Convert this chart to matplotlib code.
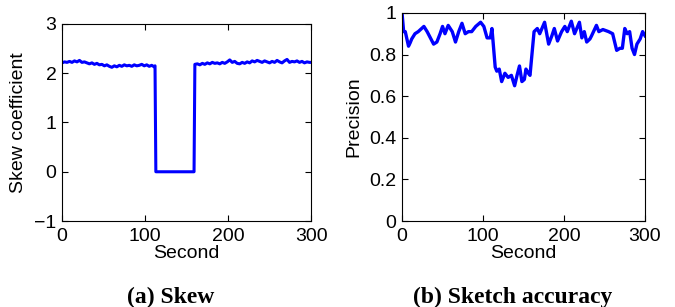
import matplotlib.pyplot as plt

plt.rcParams['font.family'] = ['Liberation Sans', 'DejaVu Sans']

# (a) skew coefficient over time
skew_t = [0, 3, 6, 9, 12, 15, 18, 21, 24, 27, 30, 33, 36, 39, 42, 45, 48, 51, 54, 57,
          60, 63, 66, 69, 72, 75, 78, 81, 84, 87, 90, 93, 96, 99, 102, 105, 108, 111,
          112, 113, 159, 160, 163, 166, 169, 172, 175, 178, 181, 184, 187, 190, 193,
          196, 199, 202, 205, 208, 211, 214, 217, 220, 223, 226, 229, 232, 235, 238,
          241, 244, 247, 250, 253, 256, 259, 262, 265, 268, 271, 274, 277, 280, 283,
          286, 289, 292, 295, 298, 300]
skew_v = [2.21, 2.23, 2.22, 2.24, 2.22, 2.25, 2.23, 2.26, 2.22, 2.23, 2.21, 2.19, 2.21,
          2.18, 2.2, 2.17, 2.18, 2.15, 2.17, 2.14, 2.12, 2.15, 2.13, 2.16, 2.14, 2.17,
          2.15, 2.16, 2.14, 2.17, 2.15, 2.16, 2.18, 2.15, 2.17, 2.14, 2.16, 2.13,
          2.15, 0.0, 0.0, 2.18, 2.19, 2.17, 2.2, 2.18, 2.21, 2.19, 2.22, 2.2, 2.21,
          2.19, 2.22, 2.2, 2.23, 2.27, 2.22, 2.24, 2.2, 2.19, 2.22, 2.2, 2.23, 2.21,
          2.25, 2.23, 2.26, 2.24, 2.22, 2.25, 2.23, 2.21, 2.24, 2.22, 2.26, 2.23,
          2.21, 2.25, 2.28, 2.22, 2.24, 2.23, 2.25, 2.22, 2.24, 2.21, 2.23, 2.22, 2.22]

# (b) sketch precision over time
prec_t = [0, 2, 4, 8, 10, 12, 16, 20, 27, 31, 35, 39, 43, 47, 50, 53, 57, 62, 66, 70,
          74, 78, 82, 86, 91, 97, 101, 105, 109, 111, 112, 115, 117, 120, 123, 127,
          131, 135, 139, 142, 145, 148, 151, 153, 156, 158, 163, 167, 170, 176, 181,
          185, 188, 192, 197, 201, 204, 209, 213, 219, 222, 225, 228, 232, 234, 240,
          243, 248, 255, 260, 265, 269, 272, 275, 278, 281, 284, 287, 290, 294, 297, 300]
prec_v = [1.0, 0.91, 0.91, 0.84, 0.856, 0.875, 0.9, 0.91, 0.935, 0.91, 0.88, 0.85,
          0.86, 0.9, 0.935, 0.9, 0.94, 0.91, 0.86, 0.91, 0.95, 0.9, 0.91, 0.91, 0.935,
          0.955, 0.935, 0.88, 0.88, 0.925, 0.88, 0.74, 0.72, 0.73, 0.67, 0.71, 0.69,
          0.7, 0.65, 0.7, 0.745, 0.67, 0.68, 0.73, 0.71, 0.7, 0.91, 0.925, 0.9, 0.955,
          0.85, 0.89, 0.925, 0.865, 0.91, 0.935, 0.91, 0.96, 0.9, 0.955, 0.88, 0.91,
          0.86, 0.875, 0.89, 0.94, 0.91, 0.92, 0.91, 0.9, 0.82, 0.83, 0.83, 0.925, 0.9,
          0.91, 0.83, 0.8, 0.85, 0.875, 0.91, 0.89]

fig = plt.figure(figsize=(6.75, 3.07), dpi=100)
ax1 = fig.add_axes([0.0919, 0.280, 0.369, 0.642])
ax2 = fig.add_axes([0.5956, 0.280, 0.360, 0.678])

ax1.plot(skew_t, skew_v, color='#0000ff', linewidth=2.2)
ax1.set_xlim(0, 300)
ax1.set_ylim(-1, 3)
ax1.set_xticks([0, 100, 200, 300])
ax1.set_yticks([-1, 0, 1, 2, 3])
ax1.set_yticklabels(['\u22121', '0', '1', '2', '3'])
ax1.set_xlabel('Second', fontsize=14, labelpad=0)
ax1.set_ylabel('Skew coefficient', fontsize=14, labelpad=5)

ax2.plot(prec_t, prec_v, color='#0000ff', linewidth=2.4)
ax2.set_xlim(0, 300)
ax2.set_ylim(0, 1)
ax2.set_xticks([0, 100, 200, 300])
ax2.set_yticks([0, 0.2, 0.4, 0.6, 0.8, 1])
ax2.set_yticklabels(['0', '0.2', '0.4', '0.6', '0.8', '1'])
ax2.set_xlabel('Second', fontsize=14, labelpad=0)
ax2.set_ylabel('Precision', fontsize=14, labelpad=5)

for ax in (ax1, ax2):
    ax.tick_params(direction='in', top=True, right=True, labelsize=14,
                   length=4, width=0.8)
    ax.tick_params(axis='x', pad=5)
    ax.tick_params(axis='y', pad=4)
    for s in ax.spines.values():
        s.set_linewidth(0.8)

fig.text(0.253, 0.031, '(a) Skew', ha='center', va='center', fontsize=17,
         fontweight='bold', family='Liberation Serif')
fig.text(0.759, 0.031, '(b) Sketch accuracy', ha='center', va='center', fontsize=17,
         fontweight='bold', family='Liberation Serif')

fig.savefig('out.png', dpi=100)
